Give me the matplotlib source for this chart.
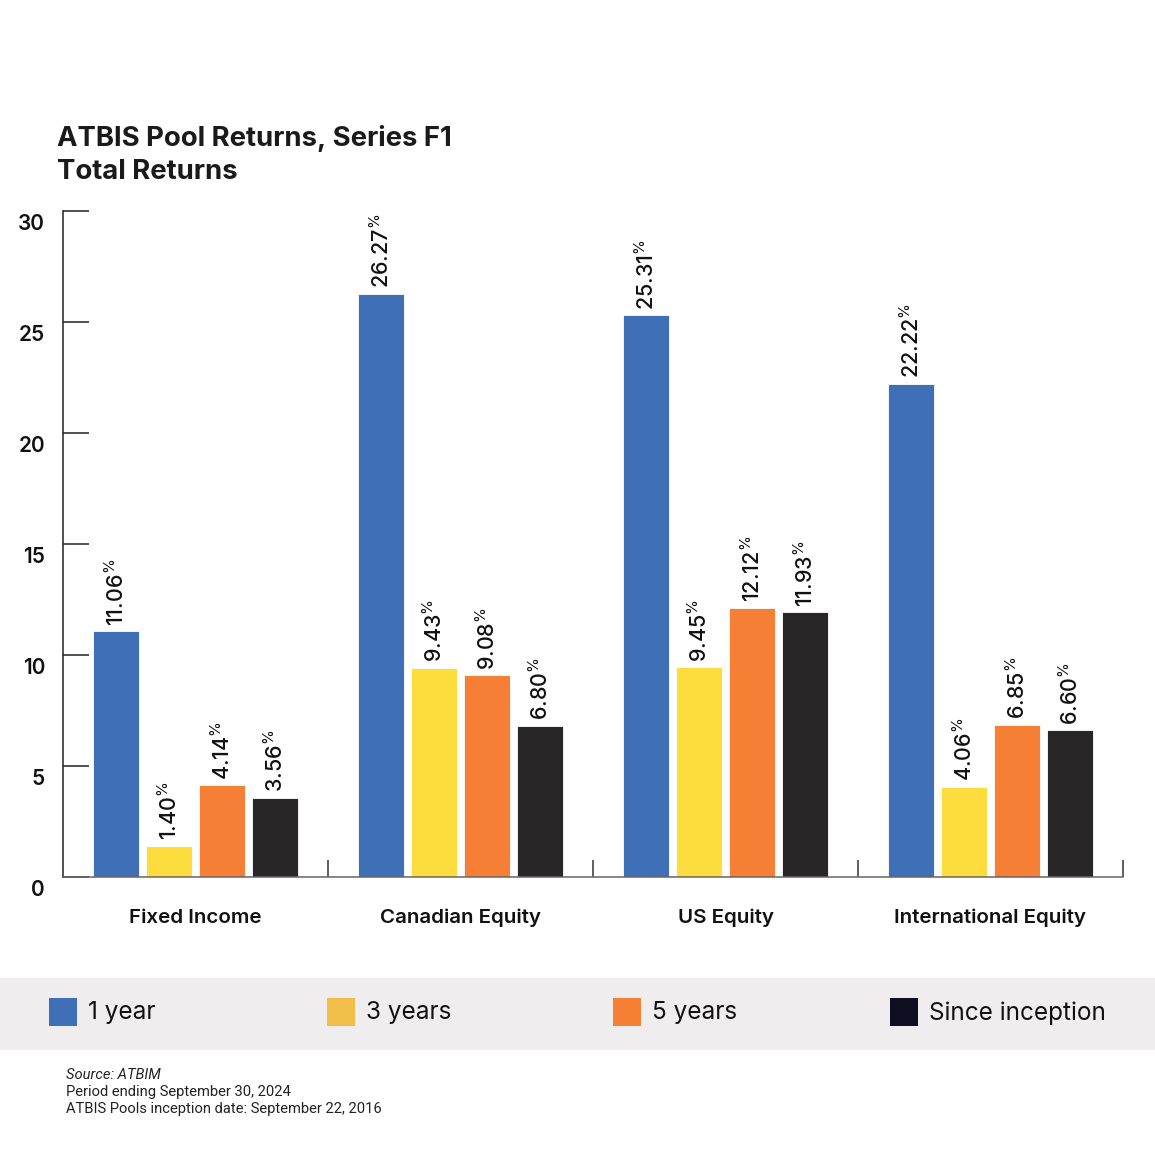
import matplotlib
matplotlib.use("Agg")
import matplotlib.pyplot as plt
import numpy as np
from matplotlib.patches import Rectangle
from matplotlib.transforms import ScaledTranslation

plt.rcParams["font.family"] = ["Inter", "DejaVu Sans"]
plt.rcParams["mathtext.fontset"] = "custom"
plt.rcParams["mathtext.rm"] = "Inter"
plt.rcParams["mathtext.it"] = "Inter"

categories = ["Fixed Income", "Canadian Equity", "US Equity", "International Equity"]
series = ["1 year", "3 years", "5 years", "Since inception"]
one_year = [11.06, 26.27, 25.31, 22.22]
three_years = [1.40, 9.43, 9.45, 4.06]
five_years = [4.14, 9.08, 12.12, 6.85]
since_inception = [3.56, 6.80, 11.93, 6.60]
yticks = [0, 5, 10, 15, 20, 25, 30]

bar_colors = ["#3f6fb6", "#fddc3d", "#f47f35", "#282627"]
legend_colors = ["#3f6fb6", "#f2be4a", "#f47f35", "#0e0e20"]

W = H = 1155
fig = plt.figure(figsize=(11.55, 11.55), dpi=100)
ax = fig.add_axes([63 / W, 1 - 877 / H, (1123 - 63) / W, (877 - 211) / H])

x = np.arange(len(categories))
bw = 0.177
step = 0.2
for i, vals in enumerate([one_year, three_years, five_years, since_inception]):
    xs = x + (i - 1.5) * step
    ax.bar(xs, vals, width=bw, color=bar_colors[i], edgecolor="white",
           linewidth=0.6, zorder=2)
    for xi, v in zip(xs, vals):
        ax.annotate(f"{v:.2f}" + r"$^{\%}$", (xi, v), xytext=(0, 4),
                    textcoords="offset points", rotation=90,
                    ha="center", va="bottom", fontsize=15.5, color="#111111",
                    fontweight="medium")

ax.set_xlim(-0.5, 3.5)
ax.set_ylim(0, 30)
for s in ["top", "right"]:
    ax.spines[s].set_visible(False)
ax.spines["left"].set_color("#222222")
ax.spines["left"].set_linewidth(1.1)
ax.spines["bottom"].set_color("#666666")
ax.spines["bottom"].set_linewidth(1.1)

ax.set_yticks(yticks)
ax.set_yticklabels([str(t) for t in yticks])
ax.tick_params(axis="y", direction="in", length=19, width=1.1, color="#222222",
               pad=13, labelsize=15, labelcolor="#111111")
off = ScaledTranslation(0, -11 / 100, fig.dpi_scale_trans)
for lab in ax.get_yticklabels():
    lab.set_transform(lab.get_transform() + off)
    lab.set_fontweight("semibold")

ax.set_xticks(x[:-1] + 0.5, minor=False)
ax.set_xticks([3.5], minor=True)
ax.set_xticklabels([])
ax.tick_params(axis="x", which="both", direction="in", length=12, width=1.1,
               color="#333333")

for xi, c in zip(x, categories):
    ax.text(xi, -1.85, c, ha="center", va="center", fontsize=14.8,
            fontweight="semibold", color="#111111")

fig.text(57 / W, 1 - 138 / H, "ATBIS Pool Returns, Series F1", fontsize=19.8,
         fontweight="bold", color="#1a1a1a", va="center")
fig.text(57 / W, 1 - 172 / H, "Total Returns", fontsize=19.8,
         fontweight="bold", color="#1a1a1a", va="center")

# legend band
fig.patches.append(Rectangle((0, 1 - 1050 / H), 1, 72 / H, transform=fig.transFigure,
                             facecolor="#efedee", edgecolor="none", zorder=0))
leg_x = [49, 327, 613, 890]
for lx, col, lab in zip(leg_x, legend_colors, series):
    fig.patches.append(Rectangle((lx / W, 1 - 1026 / H), 28 / W, 28 / H,
                                 transform=fig.transFigure, facecolor=col,
                                 edgecolor="none", zorder=1))
    fig.text((lx + 39) / W, 1 - 1013 / H, lab, fontsize=17.5, color="#111111",
             va="center", ha="left")

foot = ["Roboto", "DejaVu Sans"]
fig.text(66 / W, 1 - 1075 / H, "Source: ATBIM", fontsize=10.6, style="italic",
         color="#222222", va="center", family=foot)
fig.text(66 / W, 1 - 1092 / H, "Period ending September 30, 2024", fontsize=10.6,
         color="#222222", va="center", family=foot)
fig.text(66 / W, 1 - 1109 / H, "ATBIS Pools inception date: September 22, 2016",
         fontsize=10.6, color="#222222", va="center", family=foot)

fig.savefig("out.png", dpi=100, facecolor="white")
